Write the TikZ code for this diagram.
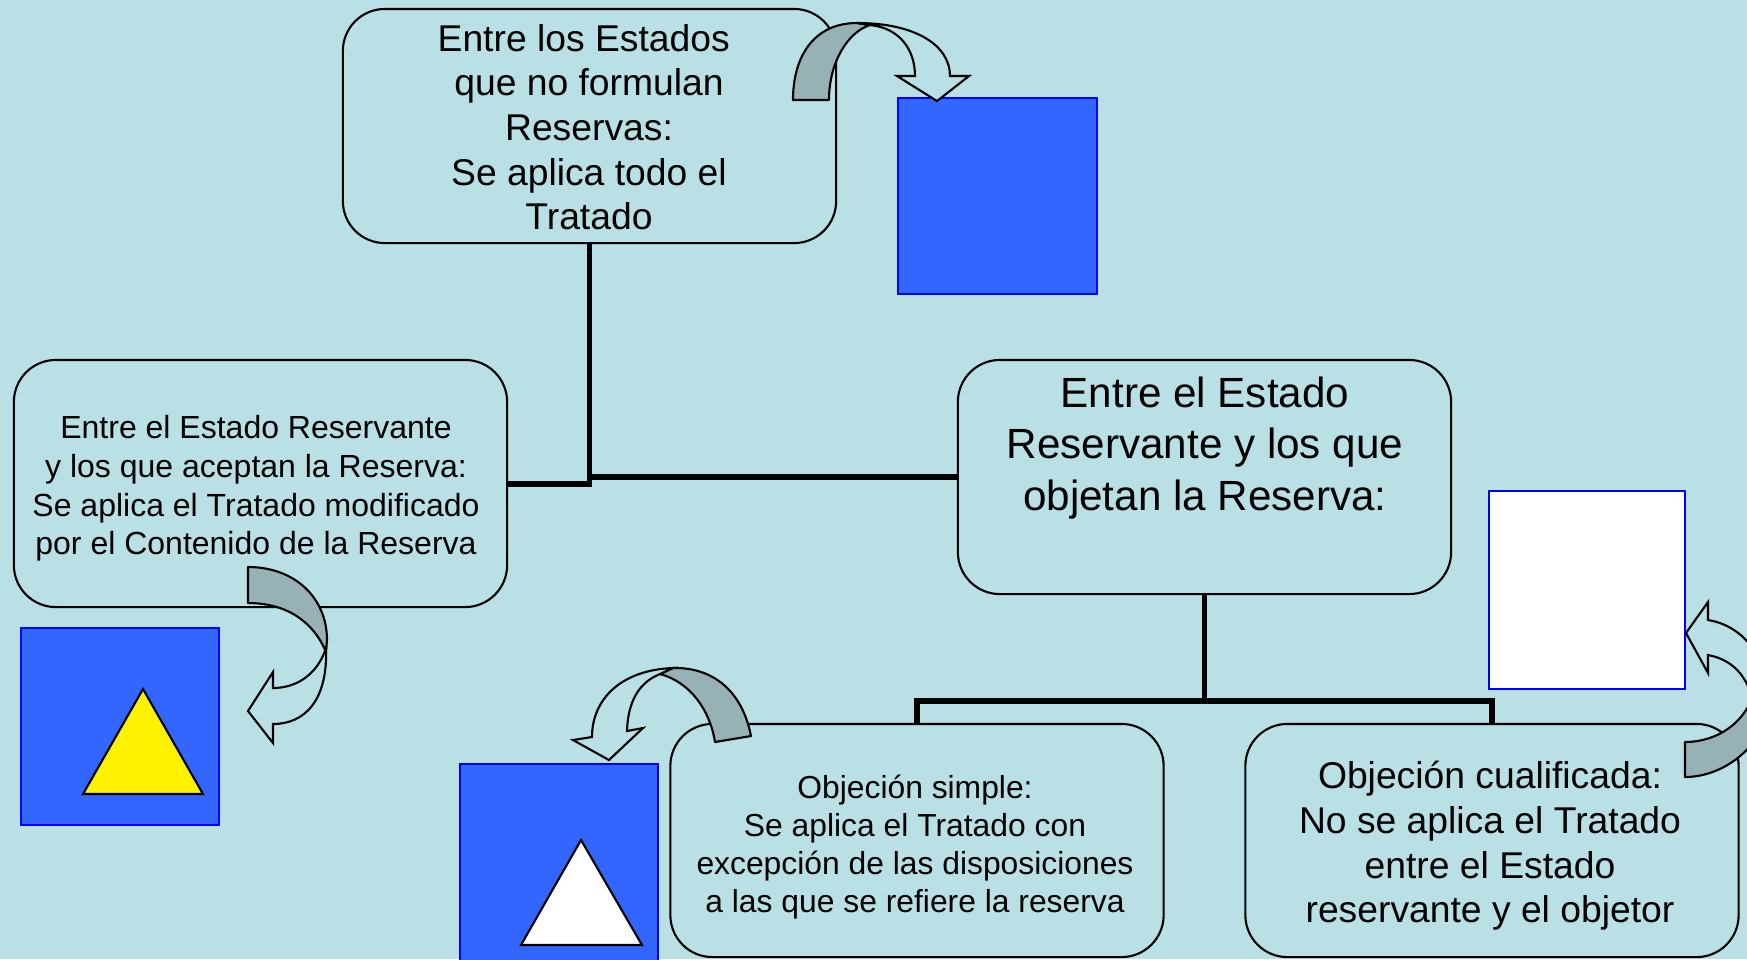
\documentclass[tikz,border=0pt]{standalone}
\usepackage{fontspec}
\setmainfont{Liberation Sans}
\definecolor{bg}{RGB}{185,224,228}
\definecolor{bandgray}{RGB}{150,178,181}
\definecolor{sqblue}{RGB}{51,102,255}
\tikzset{
  rbox/.style={draw, rounded corners=0.42cm, line width=0.6pt, minimum width=4.93cm,
    minimum height=2.34cm, inner sep=0pt},
  txt/.style={align=center, inner sep=0pt},
  sq/.style={draw=blue, line width=0.6pt, inner sep=0pt},
  wire/.style={line width=1.7pt},
  band/.style={draw, fill=bandgray, line width=0.6pt, line join=round},
  face/.style={draw, fill=bg, line width=0.6pt, line join=miter},
}
\begin{document}
\begin{tikzpicture}[x=0.01cm, y=-0.01cm]
      \useasboundingbox (0,0) rectangle (1747,959);
      \fill[bg] (0,0) rectangle (1747,959);
      \clip (0,0) rectangle (1747,959);
      \node[sq, fill=sqblue, minimum width=1.99cm, minimum height=1.96cm] (sqtop) at (997.5,196) {};
      \node[sq, fill=sqblue, minimum width=1.97cm, minimum height=1.97cm] (sqleft) at (120,726.5) {};
      \node[sq, fill=sqblue, minimum width=1.98cm, minimum height=1.97cm] (sqbot) at (559,862.5) {};
      \node[sq, fill=white, minimum width=1.96cm, minimum height=1.98cm] (sqwhite) at (1587,590) {};
      \draw[fill=yellow, line width=0.6pt] (143,689) -- (83,794) -- (203,794) -- cycle;
      \draw[fill=white, line width=0.6pt] (581,840) -- (521,945) -- (642,945) -- cycle;
      \draw
        (589.5,126) node[rbox] (top) {}
        (260.5,483.5) node[rbox, minimum height=2.47cm] (left) {}
        (1204.5,477) node[rbox] (mid) {}
        (917,840.5) node[rbox, minimum height=2.33cm] (simple) {}
        (1492,840.5) node[rbox, minimum height=2.33cm] (cual) {};
      \draw
        (589,127) node[txt, font=\fontsize{10.6}{12.7}\selectfont] (toptext)
          {Entre los Estados\hspace*{3pt}\\que no formulan\hspace*{3pt}\\Reservas:\hspace*{3pt}\\Se aplica todo el\\Tratado}
        (256,488.5) node[txt, font=\fontsize{9.1}{11}\selectfont] (lefttext)
          {Entre el Estado Reservante\\y los que aceptan la Reserva:\\Se aplica el Tratado modificado\\por el Contenido de la Reserva}
        (1205,448) node[txt, font=\fontsize{12}{14.7}\selectfont] (midtext)
          {Entre el Estado\\Reservante y los que\\objetan la Reserva:}
        (915,847) node[txt, font=\fontsize{9.05}{10.8}\selectfont] (simpletext)
          {Objeción simple:\\Se aplica el Tratado con\\excepción de las disposiciones\\a las que se refiere la reserva}
        (1490,846) node[txt, font=\fontsize{10.6}{12.7}\selectfont] (cualtext)
          {Objeción cualificada:\\No se aplica el Tratado\\entre el Estado\\reservante y el objetor};
      \coordinate (bus) at ([yshift=-1.06cm]mid.south);
      \begin{scope}[wire]
        \draw (top.south) |- (left.east);
        \draw (mid.west) -- (top.south |- mid.west);
        \draw (mid.south) -- (bus);
        \draw (simple.north) |- (bus) -| (cual.north);
      \end{scope}
      \draw[band] (793,100) .. controls (793,55) and (815,23) .. (857,23) -- (870,25)
        .. controls (848,32) and (829,62) .. (829,100) -- cycle;
      \draw[face] (857,23) .. controls (915,23) and (950,45) .. (950,76) -- (969,76) -- (937,101)
        -- (897,76) -- (915,76) .. controls (915,50) and (900,28) .. (870,25) -- cycle;
      \draw[band] (248,567) .. controls (295,567) and (327,598) .. (327,640) -- (326,652)
        .. controls (315,625) and (290,603) .. (248,603) -- cycle;
      \draw[face] (326,648) .. controls (328,700) and (305,724) .. (273,724) -- (273,743) -- (248,711)
        -- (273,672) -- (273,688) .. controls (298,688) and (318,673) .. (326,648) -- cycle;
      \draw[band] (751,736) .. controls (742,690) and (712,667) .. (673,668) -- (660,674)
        .. controls (690,682) and (710,710) .. (715,742) -- cycle;
      \draw[face] (673,668) .. controls (620,670) and (592,700) .. (592,737) -- (573,740) -- (609,760)
        -- (643,728) -- (627,731) .. controls (628,700) and (640,682) .. (660,674) -- cycle;
      \draw[face] (1708,620) .. controls (1745,626) and (1770,660) .. (1770,710) -- (1755,715)
        .. controls (1752,680) and (1735,660) .. (1708,655) -- (1708,673) -- (1686,633)
        -- (1708,602) -- cycle;
      \draw[band] (1685,742) -- (1685,777) .. controls (1725,777) and (1765,745) .. (1772,700)
        -- (1755,690) .. controls (1745,725) and (1715,742) .. (1685,742) -- cycle;
    \end{tikzpicture}
\end{document}
